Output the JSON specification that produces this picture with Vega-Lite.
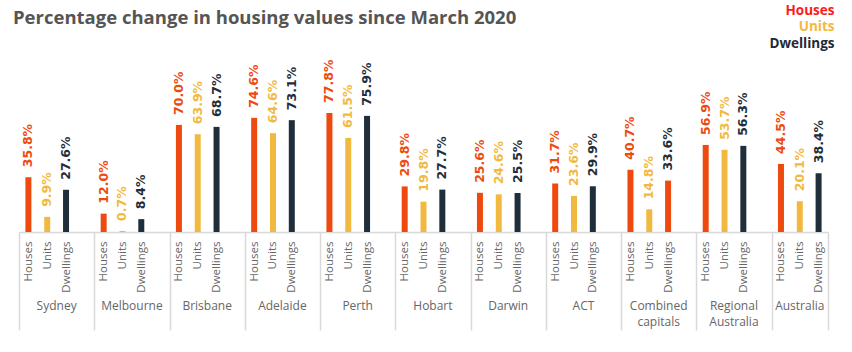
{
  "$schema": "https://vega.github.io/schema/vega-lite/v6.json",
  "autosize": "none",
  "width": 809,
  "height": 153,
  "padding": {"left": 19, "top": 79, "right": 24, "bottom": 120},
  "background": "white",
  "title": {
    "text": "Percentage change in housing values since March 2020",
    "anchor": "start",
    "frame": "group",
    "font": "Open Sans",
    "fontSize": 18.5,
    "fontWeight": 700,
    "color": "#555555",
    "dx": -6,
    "offset": -23
  },
  "config": {
    "view": {"stroke": null},
    "font": "Open Sans"
  },
  "data": {
    "values": [
      {"region": "Sydney", "type": "Houses", "value": 35.8},
      {"region": "Sydney", "type": "Units", "value": 9.9},
      {"region": "Sydney", "type": "Dwellings", "value": 27.6},
      {"region": "Melbourne", "type": "Houses", "value": 12.0},
      {"region": "Melbourne", "type": "Units", "value": 0.7},
      {"region": "Melbourne", "type": "Dwellings", "value": 8.4},
      {"region": "Brisbane", "type": "Houses", "value": 70.0},
      {"region": "Brisbane", "type": "Units", "value": 63.9},
      {"region": "Brisbane", "type": "Dwellings", "value": 68.7},
      {"region": "Adelaide", "type": "Houses", "value": 74.6},
      {"region": "Adelaide", "type": "Units", "value": 64.6},
      {"region": "Adelaide", "type": "Dwellings", "value": 73.1},
      {"region": "Perth", "type": "Houses", "value": 77.8},
      {"region": "Perth", "type": "Units", "value": 61.5},
      {"region": "Perth", "type": "Dwellings", "value": 75.9},
      {"region": "Hobart", "type": "Houses", "value": 29.8},
      {"region": "Hobart", "type": "Units", "value": 19.8},
      {"region": "Hobart", "type": "Dwellings", "value": 27.7},
      {"region": "Darwin", "type": "Houses", "value": 25.6},
      {"region": "Darwin", "type": "Units", "value": 24.6},
      {"region": "Darwin", "type": "Dwellings", "value": 25.5},
      {"region": "ACT", "type": "Houses", "value": 31.7},
      {"region": "ACT", "type": "Units", "value": 23.6},
      {"region": "ACT", "type": "Dwellings", "value": 29.9},
      {"region": "Combined capitals", "type": "Houses", "value": 40.7},
      {"region": "Combined capitals", "type": "Units", "value": 14.8},
      {"region": "Combined capitals", "type": "Dwellings", "value": 33.6},
      {"region": "Regional Australia", "type": "Houses", "value": 56.9},
      {"region": "Regional Australia", "type": "Units", "value": 53.7},
      {"region": "Regional Australia", "type": "Dwellings", "value": 56.3},
      {"region": "Australia", "type": "Houses", "value": 44.5},
      {"region": "Australia", "type": "Units", "value": 20.1},
      {"region": "Australia", "type": "Dwellings", "value": 38.4}
    ]
  },
  "transform": [
    {"calculate": "datum.region + '|' + datum.type", "as": "slot"},
    {"calculate": "format(datum.value, '.1f') + '%'", "as": "label"}
  ],
  "encoding": {
    "x": {
      "field": "slot",
      "type": "nominal",
      "scale": {
        "domain": [
          "Sydney|Houses", "Sydney|Units", "Sydney|Dwellings", "Sydney|",
          "Melbourne|Houses", "Melbourne|Units", "Melbourne|Dwellings", "Melbourne|",
          "Brisbane|Houses", "Brisbane|Units", "Brisbane|Dwellings", "Brisbane|",
          "Adelaide|Houses", "Adelaide|Units", "Adelaide|Dwellings", "Adelaide|",
          "Perth|Houses", "Perth|Units", "Perth|Dwellings", "Perth|",
          "Hobart|Houses", "Hobart|Units", "Hobart|Dwellings", "Hobart|",
          "Darwin|Houses", "Darwin|Units", "Darwin|Dwellings", "Darwin|",
          "ACT|Houses", "ACT|Units", "ACT|Dwellings", "ACT|",
          "Combined capitals|Houses", "Combined capitals|Units", "Combined capitals|Dwellings", "Combined capitals|",
          "Regional Australia|Houses", "Regional Australia|Units", "Regional Australia|Dwellings", "Regional Australia|",
          "Australia|Houses", "Australia|Units", "Australia|Dwellings"
        ],
        "paddingInner": 0,
        "paddingOuter": 0
      },
      "axis": {
        "title": null,
        "domainColor": "#d9d9d9",
        "domainWidth": 1.5,
        "tickBand": "extent",
        "tickSize": 98,
        "tickColor": "#d9d9d9",
        "tickWidth": 1.5,
        "tickOpacity": {"condition": {"test": "!datum.value || test(/\\|$/, datum.value) || datum.value == 'Australia|Dwellings'", "value": 1}, "value": 0},
        "labelExpr": "split(datum.value, '|')[1]",
        "labelAngle": 270,
        "labelPadding": -89,
        "labelFont": "Open Sans",
        "labelFontSize": 11.5,
        "labelColor": "#666666",
        "labelAlign": "right",
        "labelBaseline": "middle"
      }
    }
  },
  "layer": [
    {
      "mark": {"type": "bar", "width": 6},
      "encoding": {
        "y": {
          "field": "value",
          "type": "quantitative",
          "scale": {"domain": [0, 100], "nice": false, "zero": true},
          "axis": null
        },
        "color": {
          "condition": {"test": "datum.region === 'Combined capitals' && datum.type === 'Dwellings'", "value": "#EE4A10"},
          "field": "type",
          "type": "nominal",
          "scale": {"domain": ["Houses", "Units", "Dwellings"], "range": ["#EE4A10", "#F2B941", "#1F2E3B"]},
          "legend": {
            "title": null,
            "orient": "none",
            "legendX": 802,
            "legendY": -75,
            "symbolSize": 0,
            "symbolStrokeWidth": 0,
            "symbolOpacity": 0,
            "labelOffset": 0,
            "labelAlign": "right",
            "labelFont": "Open Sans",
            "labelFontSize": 13.5,
            "labelFontWeight": 700,
            "rowPadding": 1.5,
            "encode": {
              "labels": {
                "update": {
                  "fill": {"signal": "datum.label === 'Houses' ? '#FF1A1A' : datum.label === 'Units' ? '#F2B840' : '#1E2A38'"}
                }
              }
            }
          }
        }
      }
    },
    {
      "mark": {"type": "text", "angle": 270, "align": "left", "baseline": "middle", "dx": 10, "font": "DejaVu Sans", "fontSize": 12.5, "fontWeight": "bold"},
      "encoding": {
        "y": {"field": "value", "type": "quantitative"},
        "text": {"field": "label"},
        "color": {
          "field": "type",
          "type": "nominal",
          "scale": {"domain": ["Houses", "Units", "Dwellings"], "range": ["#EE4A10", "#F2B941", "#1F2E3B"]},
          "legend": null
        }
      }
    },
    {
      "transform": [{"filter": "datum.type === 'Units' && datum.region !== 'Australia'"}],
      "mark": {"type": "text", "align": "center", "baseline": "top", "dy": 69, "lineBreak": " ", "lineHeight": 16, "font": "Open Sans", "fontSize": 12, "color": "#666666"},
      "encoding": {
        "x": {"field": "slot", "type": "nominal", "bandPosition": 1},
        "y": {"datum": 0, "type": "quantitative"},
        "text": {"field": "region"}
      }
    },
    {
      "transform": [{"filter": "datum.type === 'Units' && datum.region === 'Australia'"}],
      "mark": {"type": "text", "align": "center", "baseline": "top", "dy": 69, "lineBreak": " ", "lineHeight": 16, "font": "Open Sans", "fontSize": 12, "color": "#666666"},
      "encoding": {
        "y": {"datum": 0, "type": "quantitative"},
        "text": {"field": "region"}
      }
    }
  ]
}
